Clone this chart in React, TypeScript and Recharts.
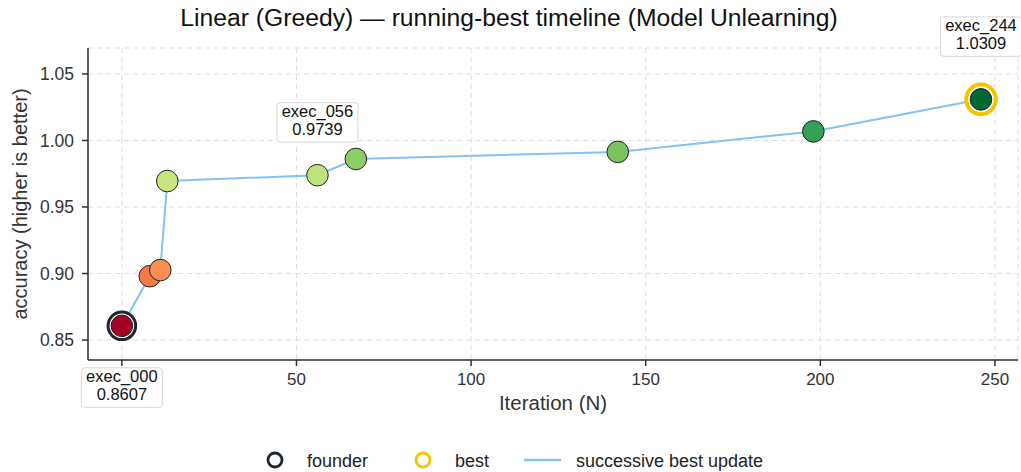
import React from 'react';
import { ComposedChart, Line, Scatter, XAxis, YAxis, CartesianGrid } from 'recharts';

// ---- data ----
const execIds = ['exec_000', 'exec_008', 'exec_011', 'exec_013', 'exec_056', 'exec_067', 'exec_142', 'exec_198', 'exec_244'];
const iterations = [0, 8, 11, 13, 56, 67, 142, 198, 246];
const accuracy = [0.8607, 0.898, 0.9026, 0.9695, 0.9739, 0.9861, 0.9914, 1.0068, 1.0309];
const annotatedExecs = ['exec_000', 'exec_056', 'exec_244'];
const xTicks = [0, 50, 100, 150, 200, 250];
const yTicks = [0.85, 0.9, 0.95, 1.0, 1.05];

// ---- styles ----
const pointColors = ['#a50026', '#f57a49', '#f98d52', '#c4e67c', '#bde27a', '#8bce62', '#7ac35e', '#35a156', '#006837'];
const annotationPlacement: Record<string, { side: 'above' | 'below'; gap: number }> = {
  exec_000: { side: 'below', gap: 42 },
  exec_056: { side: 'above', gap: 33 },
  exec_244: { side: 'above', gap: 43 },
};
const FONT = '"Liberation Sans", Arial, Helvetica, sans-serif';
const AXIS = '#2b313b';
const TEXT = '#333';
const LINE = '#82c3f6';
const FOUNDER = '#1f2633';
const BEST = '#f5c400';

const points = iterations.map((x, i) => ({
  x,
  y: accuracy[i],
  id: execIds[i],
  color: pointColors[i],
  founder: i === 0,
  best: i === iterations.length - 1,
}));
const annotations = points.filter((p) => annotatedExecs.includes(p.id));
const coveredTicks = annotations.filter((a) => annotationPlacement[a.id].side === 'below').map((a) => a.x);

const DotShape = (props: any) => {
  const { cx, cy, payload } = props;
  if (cx == null || cy == null) return <g />;
  return (
    <g>
      {payload.founder && <circle cx={cx} cy={cy} r={13.8} fill="#fff" stroke={FOUNDER} strokeWidth={3} />}
      {payload.best && <circle cx={cx} cy={cy} r={14.8} fill="#fff" stroke={BEST} strokeWidth={4} />}
      <circle cx={cx} cy={cy} r={10.8} fill={payload.color} stroke="#222" strokeWidth={1} />
    </g>
  );
};

const AnnotationShape = (props: any) => {
  const { cx, cy, payload } = props;
  if (cx == null || cy == null) return <g />;
  const place = annotationPlacement[payload.id];
  const w = 81;
  const h = 39.5;
  const top = place.side === 'below' ? cy + place.gap : cy - place.gap - h;
  return (
    <g>
      <rect x={cx - w / 2} y={top} width={w} height={h} rx={3} fill="#fff" stroke="#d6d6d6" strokeWidth={1} />
      <text x={cx} y={top + 14.5} textAnchor="middle" fontSize={16.5} fontFamily={FONT} fill="#111">
        {payload.id}
      </text>
      <text x={cx} y={top + 32.5} textAnchor="middle" fontSize={16.5} fontFamily={FONT} fill="#111">
        {payload.y.toFixed(4)}
      </text>
    </g>
  );
};

export default function App() {
  return (
    <div style={{ position: 'absolute', left: 0, top: 0, width: 1021, height: 472, background: '#fff', fontFamily: FONT }}>
      <svg width={1021} height={40} style={{ position: 'absolute', left: 0, top: 0 }}>
        <text x={509} y={26} textAnchor="middle" fontSize={24.7} fontFamily={FONT} fill="#111">
          Linear (Greedy) — running-best timeline (Model Unlearning)
        </text>
      </svg>
      <div style={{ position: 'absolute', left: 0, top: 0 }}>
        <ComposedChart width={1021} height={472} margin={{ top: 48, right: 3, left: 0, bottom: 55 }}>
          <CartesianGrid stroke="#dedede" strokeDasharray="5 4" />
          <XAxis
            type="number"
            dataKey="x"
            domain={[-9.7, 256.6]}
            ticks={xTicks}
            height={57}
            stroke={AXIS}
            strokeWidth={1.5}
            tickSize={6}
            tickMargin={7}
            tickFormatter={(v: number) => (coveredTicks.includes(v) ? '' : String(v))}
            tick={{ fill: TEXT, fontSize: 17, fontFamily: FONT }}
            label={{ value: 'Iteration (N)', position: 'insideBottom', offset: 7, fill: TEXT, fontSize: 20.5, fontFamily: FONT }}
          />
          <YAxis
            type="number"
            dataKey="y"
            domain={[0.835, 1.0695]}
            ticks={yTicks}
            width={88}
            stroke={AXIS}
            strokeWidth={1.5}
            tickSize={6}
            tickMargin={8}
            tickFormatter={(v: number) => v.toFixed(2)}
            tick={{ fill: TEXT, fontSize: 17.5, fontFamily: FONT }}
            label={{
              value: 'accuracy (higher is better)',
              angle: -90,
              position: 'insideLeft',
              offset: 20,
              style: { textAnchor: 'middle' },
              fill: TEXT,
              fontSize: 20,
              fontFamily: FONT,
            }}
          />
          <Line data={points} dataKey="y" type="linear" stroke={LINE} strokeWidth={2} dot={false} activeDot={false} isAnimationActive={false} />
          <Scatter data={points} dataKey="y" shape={<DotShape />} isAnimationActive={false} />
          <Scatter data={annotations} dataKey="y" shape={<AnnotationShape />} isAnimationActive={false} />
        </ComposedChart>
      </div>
      <svg width={1021} height={30} style={{ position: 'absolute', left: 0, top: 442 }}>
        <circle cx={275} cy={18} r={7} fill="none" stroke={FOUNDER} strokeWidth={2.8} />
        <circle cx={423} cy={18} r={7} fill="none" stroke={BEST} strokeWidth={2.8} />
        <line x1={524} y1={18} x2={561} y2={18} stroke={LINE} strokeWidth={2.5} />
        <text x={307} y={24.5} fontSize={18} fontFamily={FONT} fill="#222">founder</text>
        <text x={455} y={24.5} fontSize={18} fontFamily={FONT} fill="#222">best</text>
        <text x={576} y={24.5} fontSize={18} fontFamily={FONT} fill="#222">successive best update</text>
      </svg>
    </div>
  );
}
